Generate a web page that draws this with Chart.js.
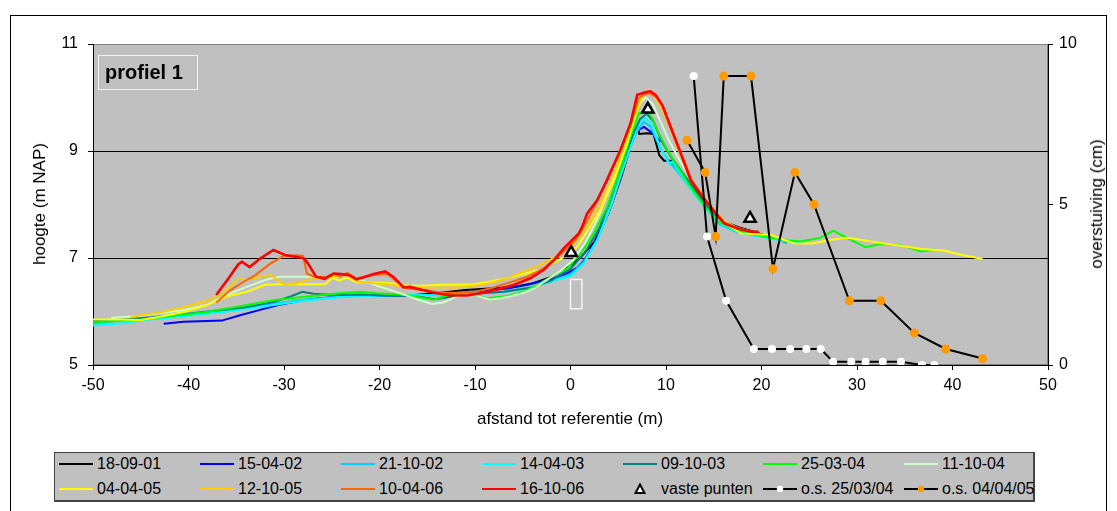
<!DOCTYPE html>
<html>
<head>
<meta charset="utf-8">
<title>profiel 1</title>
<script src="https://cdn.jsdelivr.net/npm/chart.js@4.4.1/dist/chart.umd.min.js"></script>
<style>
	body { margin: 0; background: #fff; overflow: hidden; font-family: 'Liberation Sans', Arial, sans-serif; }
	#wrap { position: relative; width: 1117px; height: 511px; }
	#chart { position: absolute; left: 0; top: 0; }
	#rand { position: absolute; left: 10px; top: 15px; width: 1097px; height: 500px; border: 1px solid #000; box-sizing: border-box; }
	.astitel { position: absolute; font-size: 17px; white-space: nowrap; color: #000; transform: translate(-50%, -50%); }
	.astitel.rot { transform: translate(-50%, -50%) rotate(-90deg); }
	#profiel { position: absolute; left: 98px; top: 55px; width: 100px; height: 35px; box-sizing: border-box; border: 1px solid #f2f2f2; font-weight: bold; font-size: 20px; line-height: 32px; padding-left: 6px; }
	#legenda { position: absolute; left: 54px; top: 452px; width: 981px; height: 50px; box-sizing: border-box; background: #c0c0c0; border: 1px solid #444; border-right-width: 2px; border-bottom-width: 2px; }
	.lg { position: absolute; height: 20px; white-space: nowrap; font-size: 16px; line-height: 20px; }
	.lg svg { position: absolute; left: 0; top: 4px; }
	.lg span { position: absolute; left: 38px; top: 0; }
</style>
</head>
<body>
<div id="wrap">
	<div id="rand"></div>
	<canvas id="chart" width="1117" height="511"></canvas>
	<div id="profiel">profiel 1</div>
	<div class="astitel rot" style="left:40px; top:204px;">hoogte (m NAP)</div>
	<div class="astitel" style="left:570px; top:419px;">afstand tot referentie (m)</div>
	<div class="astitel rot" style="left:1097px; top:204px;">overstuiving (cm)</div>
	<div id="legenda"></div>
</div>
<script>
// metingen: afstand (m) en hoogte (m NAP) per datum
var afstand_180901 = [-23, -20, -17, -14, -11, -8.5, -6, -3.9, -1.8, -0.4, 1, 2.5, 4, 5.3, 6.3, 7.0, 7.2, 8.0, 8.7, 9.3, 9.8, 10.5, 11.2, 12.2, 13.6, 15.0, 16.1, 17.5, 19.2, 21, 22.7];
var hoogte_180901  = [6.29, 6.29, 6.30, 6.34, 6.40, 6.43, 6.46, 6.53, 6.66, 6.82, 7.00, 7.30, 7.85, 8.50, 9.10, 9.45, 9.32, 9.33, 9.32, 8.92, 8.82, 8.82, 8.64, 8.46, 8.15, 7.83, 7.68, 7.58, 7.49, 7.38, 7.29];

var afstand_150402 = [-42.6, -40.5, -36.5, -34.6, -32.5, -30.6, -28.3, -26.2, -24.1, -22, -20.6, -17.1, -14.3, -11.9, -10.1, -8.4, -6.6, -4.5, -3.15, -1.75, -0.3, 0.7, 1.5, 2.5, 3.8, 4.9, 5.9, 6.6, 7.2, 7.7, 8.6, 9.4];
var hoogte_150402  = [5.77, 5.81, 5.83, 5.93, 6.03, 6.12, 6.20, 6.25, 6.28, 6.30, 6.29, 6.31, 6.31, 6.34, 6.37, 6.40, 6.43, 6.50, 6.56, 6.62, 6.72, 6.82, 6.97, 7.27, 7.77, 8.33, 8.96, 9.33, 9.40, 9.45, 9.33, 9.17];

var afstand_211002 = [-50, -47, -44, -40, -36, -32, -28, -24, -20, -16, -13, -10, -7, -4, -2, 0, 1.4, 2.8, 4.2, 5.2, 6.2, 7.0, 7.7, 8.4, 9.4, 10.3, 11.2, 12.9, 14.5, 15.7, 17.5, 19.5];
var hoogte_211002  = [5.78, 5.83, 5.88, 5.95, 6.02, 6.12, 6.22, 6.28, 6.30, 6.31, 6.31, 6.34, 6.37, 6.46, 6.56, 6.70, 6.93, 7.34, 7.95, 8.50, 9.05, 9.38, 9.55, 9.45, 9.05, 8.80, 8.62, 8.22, 7.85, 7.62, 7.48, 7.42];

var afstand_140403 = [-50.5, -47, -44, -40, -36, -32, -28, -24, -20, -16, -13, -10, -7, -4, -2, 0, 1.4, 2.8, 4.2, 5.2, 6.3, 7.0, 7.7, 8.4, 9.4, 10.3, 10.65, 12.9, 14.5, 15.9, 17.5, 18.9, 20.5, 22.7, 24.5];
var hoogte_140403  = [5.73, 5.78, 5.85, 5.92, 6.00, 6.10, 6.20, 6.27, 6.30, 6.31, 6.30, 6.34, 6.37, 6.45, 6.57, 6.66, 6.90, 7.34, 7.96, 8.52, 9.08, 9.45, 9.63, 9.52, 9.08, 8.76, 8.80, 8.21, 7.85, 7.62, 7.50, 7.43, 7.38, 7.30, 7.29];

var afstand_091003 = [-50, -46, -42, -38, -34, -31, -29.5, -28.1, -26.9, -25, -22, -19, -16, -14.2, -12, -10, -7, -4, -2, 0, 1.5, 3, 4.3, 5.5, 6.5, 7.3, 8.0, 8.7, 9.5, 10.5, 11.5, 13, 14.5, 16, 17.5, 19.2, 20.5];
var hoogte_091003  = [5.82, 5.86, 5.92, 6.00, 6.08, 6.18, 6.27, 6.37, 6.33, 6.31, 6.32, 6.30, 6.28, 6.23, 6.29, 6.33, 6.37, 6.45, 6.58, 6.80, 7.10, 7.55, 8.15, 8.80, 9.30, 9.60, 9.70, 9.55, 9.20, 8.90, 8.65, 8.28, 7.92, 7.68, 7.54, 7.46, 7.42];

var afstand_250304 = [-50, -45, -41.6, -38.1, -34.6, -31.1, -27.6, -24.1, -22, -20.3, -17.1, -15.7, -14.3, -13.3, -11.9, -10.1, -8.7, -6.6, -4.9, -3.15, -1.75, -0.35, 1.05, 2.44, 3.84, 5.24, 6.29, 7.16, 8.03, 8.56, 9.08, 10.13, 11.2, 12.5, 14, 15.5, 17, 18.9, 21, 22.7, 24.1, 26.2, 27.5, 29.0, 30.9, 32.5, 34.6, 36.7, 38.1];
var hoogte_250304  = [5.80, 5.85, 5.92, 5.99, 6.10, 6.21, 6.28, 6.34, 6.37, 6.34, 6.31, 6.26, 6.22, 6.28, 6.34, 6.31, 6.25, 6.29, 6.37, 6.53, 6.68, 6.80, 7.09, 7.46, 7.96, 8.65, 9.27, 9.70, 9.77, 9.61, 9.39, 9.02, 8.71, 8.35, 7.98, 7.68, 7.55, 7.45, 7.38, 7.33, 7.31, 7.38, 7.51, 7.37, 7.20, 7.26, 7.24, 7.12, 7.16];

var afstand_111004 = [-48.1, -45, -40.5, -38.1, -36.0, -33.9, -31.8, -30.4, -27.6, -25.5, -24.1, -23.4, -22.0, -19.9, -17.8, -16.1, -14.5, -13.3, -11.9, -10.1, -8.4, -6.6, -4.9, -3.85, -2.45, -1.05, 0.3, 1.6, 3.0, 4.3, 5.5, 6.6, 7.3, 7.9, 8.6, 9.3, 10.3, 11.5, 13, 14.5, 16, 17.5, 19];
var hoogte_111004  = [5.88, 5.92, 6.03, 6.12, 6.31, 6.46, 6.60, 6.65, 6.65, 6.65, 6.65, 6.71, 6.59, 6.46, 6.34, 6.23, 6.14, 6.17, 6.28, 6.31, 6.22, 6.27, 6.35, 6.43, 6.59, 6.76, 6.96, 7.30, 7.80, 8.45, 9.10, 9.65, 9.90, 10.00, 9.88, 9.60, 9.20, 8.80, 8.38, 7.98, 7.70, 7.56, 7.48];

var afstand_040405 = [-50, -47, -45, -43, -40.5, -38.1, -36, -33.9, -32, -30.4, -28.6, -27.2, -25.7, -25.0, -24.1, -23.4, -22.4, -20.6, -18.9, -17.1, -15.4, -13.6, -11.9, -10.1, -8.4, -6.6, -4.9, -3.15, -1.23, -0.35, 0.7, 1.74, 3.14, 4.54, 5.94, 6.99, 7.6, 8.2, 8.9, 9.6, 10.5, 11.5, 12.6, 13.8, 15.2, 16.1, 17.8, 21.0, 23.4, 25.3, 27.3, 29.0, 31.1, 32.8, 34.6, 36.7, 39.1, 40.9, 43.15];
var hoogte_040405  = [5.85, 5.85, 5.84, 5.90, 5.99, 6.12, 6.28, 6.37, 6.50, 6.51, 6.51, 6.51, 6.51, 6.62, 6.58, 6.64, 6.54, 6.54, 6.53, 6.48, 6.48, 6.50, 6.50, 6.51, 6.56, 6.62, 6.70, 6.78, 6.96, 7.06, 7.21, 7.49, 7.90, 8.46, 9.14, 9.77, 10.05, 10.14, 10.05, 9.85, 9.45, 8.98, 8.48, 8.17, 7.86, 7.67, 7.46, 7.43, 7.27, 7.27, 7.34, 7.38, 7.32, 7.27, 7.23, 7.17, 7.14, 7.06, 6.98];

var afstand_121005 = [-46.1, -43, -40.5, -38.1, -36.7, -35.6, -34.8, -33.9, -32.5, -31.4, -30.7, -30.0, -28.6, -27.6, -26.2, -24.8, -24.1, -23.4, -22.7, -22.4, -20.6, -18.9, -17.1, -15.4, -13.6, -11.9, -10.1, -8.4, -6.6, -4.9, -3.15, -1.75, -1.05, 0.35, 1.74, 3.14, 4.54, 5.94, 6.99, 7.5, 8.1, 8.8, 9.5, 10.4, 11.4, 12.5, 13.8, 15.2, 16.1, 17.5, 19.2];
var hoogte_121005  = [5.90, 5.98, 6.08, 6.20, 6.31, 6.48, 6.61, 6.59, 6.65, 6.68, 6.59, 6.51, 6.53, 6.59, 6.62, 6.66, 6.66, 6.71, 6.63, 6.56, 6.53, 6.50, 6.46, 6.45, 6.45, 6.45, 6.48, 6.53, 6.62, 6.75, 6.87, 7.00, 7.08, 7.27, 7.59, 8.02, 8.58, 9.27, 9.83, 10.02, 10.12, 10.02, 9.80, 9.45, 8.98, 8.50, 8.17, 7.86, 7.68, 7.56, 7.48];

var afstand_100406 = [-37.1, -35.6, -34.2, -33.0, -31.4, -30.0, -28.6, -28.0, -27.6, -26.9, -25.5, -24.8, -24.1, -23.4, -22.7, -22.4, -20.6, -19.2, -18.2, -17.1, -15.4, -13.6, -11.9, -10.1, -8.4, -6.6, -4.5, -2.8, -1.05, 0.5, 1.6, 2.9, 4.0, 5.4, 6.4, 7.1, 7.7, 8.3, 9.0, 9.7, 10.6, 11.6, 12.7, 13.9, 15.3, 16.2, 17.5, 19.0];
var hoogte_100406  = [6.17, 6.40, 6.56, 6.68, 6.90, 7.04, 7.05, 7.04, 6.71, 6.65, 6.65, 6.71, 6.65, 6.72, 6.65, 6.62, 6.68, 6.70, 6.56, 6.43, 6.40, 6.35, 6.35, 6.37, 6.43, 6.53, 6.65, 6.81, 7.06, 7.33, 7.65, 8.10, 8.55, 9.10, 9.55, 9.98, 10.06, 10.08, 10.00, 9.82, 9.42, 8.95, 8.45, 8.14, 7.83, 7.65, 7.55, 7.49];

var afstand_161006 = [-37.1, -35.8, -34.8, -34.4, -33.6, -32.5, -31.1, -29.8, -28.6, -27.9, -27.5, -26.65, -25.75, -24.8, -24.1, -23.2, -22.4, -20.6, -19.4, -18.5, -17.5, -16.8, -15.7, -14.3, -12.6, -10.8, -9.4, -7.7, -5.9, -4.2, -2.8, -1.75, -0.7, 0.87, 1.22, 1.74, 2.79, 3.84, 5.24, 6.29, 6.99, 7.68, 8.31, 8.91, 9.61, 10.48, 11.53, 12.58, 13.8, 15.2, 16.07, 17.47, 18.86, 19.7];
var hoogte_161006  = [6.31, 6.62, 6.88, 6.93, 6.83, 6.99, 7.15, 7.05, 7.02, 6.99, 6.90, 6.65, 6.61, 6.71, 6.70, 6.68, 6.60, 6.70, 6.75, 6.64, 6.45, 6.46, 6.41, 6.35, 6.30, 6.30, 6.34, 6.41, 6.50, 6.62, 6.78, 6.96, 7.18, 7.46, 7.58, 7.83, 8.08, 8.46, 9.02, 9.52, 10.05, 10.09, 10.12, 10.05, 9.86, 9.45, 8.96, 8.46, 8.15, 7.84, 7.65, 7.55, 7.49, 7.49];

// vaste punten (m NAP)
var afstand_vast = [0.07, 8.1, 18.8];
var hoogte_vast  = [7.1, 9.78, 7.74];

// overstuiving (cm), rechter as
var afstand_os0304 = [12.9, 14.3, 16.3, 19.2, 21.1, 23.0, 24.7, 26.2, 27.5, 29.4, 30.9, 32.7, 34.6, 36.8, 38.1];
var overst_os0304  = [9, 4, 2, 0.5, 0.5, 0.5, 0.5, 0.5, 0.1, 0.1, 0.1, 0.1, 0.1, 0, 0];
var afstand_os0405 = [12.2, 14.1, 15.2, 16.05, 18.9, 21.2, 23.5, 25.5, 29.2, 32.5, 36.0, 39.3, 43.15];
var overst_os0405  = [7, 6, 4, 9, 9, 3, 6, 5, 2, 2, 1, 0.5, 0.2];

// witte kader bij x = 0 (m, m NAP)
var kader = [0, 6.6, 1.2, 6.05];

var profielen = [
	['18-09-01', afstand_180901, hoogte_180901, '#000000'],
	['15-04-02', afstand_150402, hoogte_150402, '#0000ff'],
	['21-10-02', afstand_211002, hoogte_211002, '#00ccff'],
	['14-04-03', afstand_140403, hoogte_140403, '#00ffff'],
	['09-10-03', afstand_091003, hoogte_091003, '#008080'],
	['25-03-04', afstand_250304, hoogte_250304, '#00ff00'],
	['11-10-04', afstand_111004, hoogte_111004, '#ccffcc'],
	['04-04-05', afstand_040405, hoogte_040405, '#ffff00'],
	['12-10-05', afstand_121005, hoogte_121005, '#ffcc00'],
	['10-04-06', afstand_100406, hoogte_100406, '#ff6600'],
	['16-10-06', afstand_161006, hoogte_161006, '#ff0000']
];

function punten(xs, ys) {
	return xs.map(function (x, i) { return { x: x, y: ys[i] }; });
}

var datasets = profielen.map(function (p, i) {
	return {
		label: p[0],
		data: punten(p[1], p[2]),
		borderColor: p[3],
		borderWidth: i == 10 ? 2.6 : 2,
		pointRadius: 0,
		tension: 0,
		fill: false,
		yAxisID: 'y'
	};
});
datasets.push({
	label: 'vaste punten',
	data: punten(afstand_vast, hoogte_vast),
	showLine: false,
	pointStyle: 'triangle',
	pointRadius: 6.5,
	pointBackgroundColor: '#ffffff',
	pointBorderColor: '#000000',
	pointBorderWidth: 2.5,
	yAxisID: 'y'
});
datasets.push({
	label: 'o.s. 25/03/04',
	data: punten(afstand_os0304, overst_os0304),
	borderColor: '#000000',
	borderWidth: 2,
	pointRadius: 4,
	pointBackgroundColor: '#ffffff',
	pointBorderColor: '#ffffff',
	pointBorderWidth: 0,
	tension: 0,
	yAxisID: 'y2'
});
datasets.push({
	label: 'o.s. 04/04/05',
	data: punten(afstand_os0405, overst_os0405),
	borderColor: '#000000',
	borderWidth: 2,
	pointRadius: 4.5,
	pointBackgroundColor: '#ff9900',
	pointBorderColor: '#ff9900',
	pointBorderWidth: 0,
	tension: 0,
	yAxisID: 'y2'
});
// laatste reeks bovenop, zoals in Excel
datasets.forEach(function (ds, i) { ds.order = datasets.length - i; });

var lettertype = { family: "'Liberation Sans', Arial, sans-serif", size: 16 };

var achtergrond = {
	id: 'achtergrond',
	beforeDraw: function (chart) {
		var c = chart.ctx, a = chart.chartArea;
		c.save();
		c.fillStyle = '#c0c0c0';
		c.fillRect(a.left, a.top, a.right - a.left, a.bottom - a.top);
		c.strokeStyle = '#808080';
		c.lineWidth = 1;
		c.strokeRect(a.left + 0.5, a.top + 0.5, a.right - a.left - 1, a.bottom - a.top - 1);
		c.restore();
	},
	beforeDatasetsDraw: function (chart) {
		var c = chart.ctx, sx = chart.scales.x, sy = chart.scales.y;
		var x1 = sx.getPixelForValue(kader[0]), y1 = sy.getPixelForValue(kader[1]);
		var x2 = sx.getPixelForValue(kader[2]), y2 = sy.getPixelForValue(kader[3]);
		c.save();
		c.strokeStyle = '#f4f4f4';
		c.lineWidth = 1.5;
		c.strokeRect(x1, y1, x2 - x1, y2 - y1);
		c.restore();
	}
};

var ctx = document.getElementById('chart').getContext('2d');
var grafiek = new Chart(ctx, {
	type: 'line',
	data: { datasets: datasets },
	plugins: [achtergrond],
	options: {
		responsive: false,
		animation: false,
		devicePixelRatio: 1,
		layout: { padding: { top: 44, left: 0, right: 0, bottom: 0 } },
		plugins: { legend: { display: false }, tooltip: { enabled: false } },
		scales: {
			x: {
				type: 'linear', min: -50, max: 50,
				ticks: { stepSize: 10, color: '#000', font: lettertype, padding: 6, maxRotation: 0 },
				grid: { drawOnChartArea: false, tickLength: 5, tickColor: '#000', tickWidth: 1 },
				border: { color: '#000', width: 1 },
				afterFit: function (s) { s.height = 146; }
			},
			y: {
				position: 'left', min: 5, max: 11,
				ticks: { stepSize: 2, color: '#000', font: lettertype, padding: 10 },
				grid: {
					color: function (c) { return c.tick && c.tick.value == 11 ? '#808080' : '#000'; },
					tickColor: '#000', tickLength: 5, lineWidth: 1
				},
				border: { color: '#000', width: 1 },
				afterFit: function (s) { s.width = 93; }
			},
			y2: {
				position: 'right', min: 0, max: 10,
				ticks: { stepSize: 5, color: '#000', font: lettertype, padding: 6 },
				grid: { drawOnChartArea: false, tickLength: 5, tickColor: '#000' },
				border: { color: '#000', width: 1 },
				afterFit: function (s) { s.width = 69; }
			}
		}
	}
});

// legenda in Excel-stijl: 2 rijen van 7 kolommen
var kolommen = [4, 145, 286, 427, 568, 708, 849];
var rijen = [1, 26];
var legenda = document.getElementById('legenda');
grafiek.data.datasets.forEach(function (ds, i) {
	var item = document.createElement('div');
	item.className = 'lg';
	item.style.left = kolommen[i % 7] + 'px';
	item.style.top = rijen[Math.floor(i / 7)] + 'px';
	var svg = '<svg width="36" height="12">';
	if (ds.showLine !== false) {
		svg += '<line x1="0" y1="6" x2="34" y2="6" stroke="' + ds.borderColor + '" stroke-width="2"/>';
	}
	if (ds.pointStyle == 'triangle') {
		svg += '<polygon points="17,1.5 21.5,10 12.5,10" fill="#fff" stroke="#000" stroke-width="2"/>';
	} else if (ds.pointRadius > 0) {
		svg += '<circle cx="17" cy="6" r="3.2" fill="' + ds.pointBackgroundColor + '"/>';
	}
	svg += '</svg>';
	item.innerHTML = svg + '<span>' + ds.label + '</span>';
	legenda.appendChild(item);
});
</script>
</body>
</html>
